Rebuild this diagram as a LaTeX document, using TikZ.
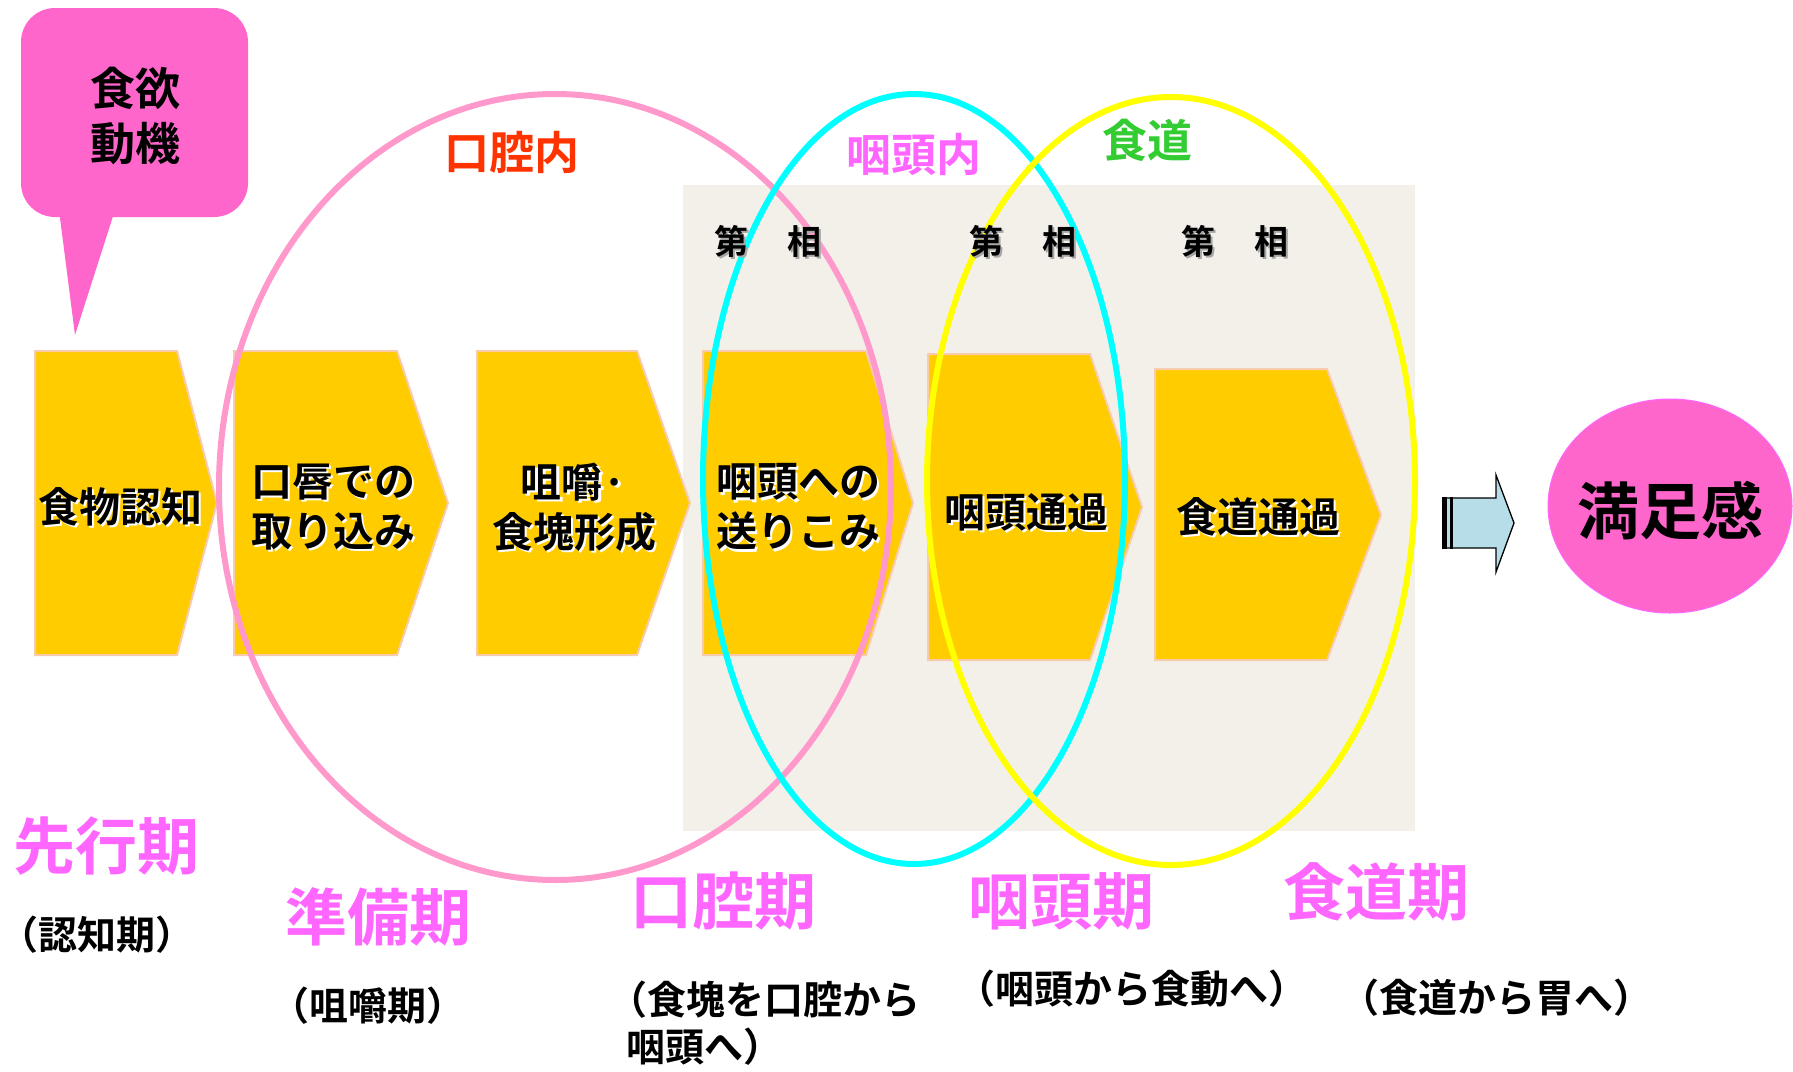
\documentclass[tikz,border=0pt]{standalone}
\usepackage{fontspec}
\setmainfont{Noto Sans CJK JP}[BoldFont={Noto Sans CJK JP Bold}]
\usetikzlibrary{shapes.geometric}
\definecolor{chevfill}{HTML}{FFCC00}
\definecolor{chevline}{HTML}{F8CBAD}
\definecolor{hotpink}{HTML}{FF66CC}
\definecolor{magentalbl}{HTML}{FF66FF}
\definecolor{redlbl}{HTML}{FF3300}
\definecolor{greenlbl}{HTML}{33CC33}
\definecolor{pinkring}{HTML}{FF99CC}
\definecolor{cyanring}{HTML}{00FFFF}
\definecolor{yellowring}{HTML}{FFFF00}
\definecolor{bgbeige}{HTML}{F3F0EA}
\definecolor{arrowblue}{HTML}{B7DEE8}
\newcommand{\fs}[1]{\fontsize{#1}{1.22\dimexpr #1pt\relax}\selectfont\bfseries}
\newcommand{\shtext}[5]{% name, position, style, shadow colour, text
  \node[#3, text=#4, xshift=2.2pt, yshift=-2.2pt] at #2 {#5};
  \node[#3] (#1) at #2 {#5};}
\begin{document}
\begin{tikzpicture}[x=1pt,y=-1pt,
  chev/.style={fill=chevfill, draw=chevline, line width=2pt},
  ring/.style={line width=6pt},
  chevtxt/.style={inner sep=0pt, align=center, font=\fs{41}, text=black},
  phasetxt/.style={inner sep=0pt, font=\fs{62}, text=magentalbl},
  subtxt/.style={inner sep=0pt, font=\fs{39}, text=black},
  regtxt/.style={inner sep=0pt, font=\fs{45}},
  stagetxt/.style={inner sep=0pt, font=\fs{34}, text=black}]
\useasboundingbox (0,0) rectangle (1793,1071);
\fill[white] (0,0) rectangle (1793,1071);

% background panel
\fill[bgbeige] (683,185) rectangle (1415,831);

% callout
\fill[hotpink, rounded corners=34pt] (21,8) rectangle (248,217);
\fill[hotpink] (59,210) -- (115,210) -- (75,335) -- cycle;
\node[inner sep=0pt, align=center, font=\fs{45}, text=black] (motive) at (135,116) {食欲\\動機};

% chevrons
\draw[chev] (35,351) -- (177,351) -- (217,503) -- (177,655) -- (35,655) -- cycle;
\draw[chev] (234,351) -- (397,351) -- (448,503) -- (397,655) -- (234,655) -- cycle;
\draw[chev] (477,351) -- (637,351) -- (690,503) -- (637,655) -- (477,655) -- cycle;
\draw[chev] (703,351) -- (866,351) -- (913,503) -- (866,655) -- (703,655) -- cycle;
\draw[chev] (928,354) -- (1090,354) -- (1142,507) -- (1090,660) -- (928,660) -- cycle;
\draw[chev] (1155,369) -- (1327,369) -- (1381,515) -- (1327,660) -- (1155,660) -- cycle;

% rings
\draw[ring, pinkring] (555,487) ellipse [x radius=336, y radius=393];
\draw[ring, cyanring] (914,479) ellipse [x radius=211, y radius=385];
\draw[ring, yellowring] (1171,481) ellipse [x radius=244, y radius=384];

% chevron texts
\shtext{c1}{(120,507)}{chevtxt}{white}{食物認知}
\shtext{c2}{(333,507)}{chevtxt}{white}{口唇での\\取り込み}
\shtext{c3}{(574,507)}{chevtxt}{white}{咀嚼·\\食塊形成}
\shtext{c4}{(798,507)}{chevtxt}{white}{咽頭への\\送りこみ}
\shtext{c5}{(1026,512)}{chevtxt}{white}{咽頭通過}
\shtext{c6}{(1258,517)}{chevtxt}{white}{食道通過}

% stage labels
\shtext{s1}{(768,241)}{stagetxt}{gray!70}{第\hspace{1.15em}相}
\shtext{s2}{(1023,241)}{stagetxt}{gray!70}{第\hspace{1.15em}相}
\shtext{s3}{(1235,241)}{stagetxt}{gray!70}{第\hspace{1.15em}相}

% region labels
\node[regtxt, text=redlbl] (oral) at (512,152) {口腔内};
\node[regtxt, text=magentalbl] (phar) at (914,154) {咽頭内};
\node[regtxt, text=greenlbl] (eso) at (1147,140) {食道};

% arrow
\filldraw[fill=arrowblue, draw=black, line width=1.3pt] (1446,498) -- (1496,498) -- (1496,475) -- (1514,523) -- (1496,572) -- (1496,548) -- (1446,548) -- cycle;
\fill[black] (1442,497) rectangle (1447,549);
\fill[black] (1450,497) rectangle (1452.5,549);
\coordinate (arrowtip) at (1514,523);

% satisfaction
\node[ellipse, fill=hotpink, draw=magentalbl, line width=1pt, minimum width=244pt, minimum height=214pt, inner sep=0pt] (sat) at (1670,506) {};
\node[inner sep=0pt, font=\fs{62}, text=black] (sattxt) at (1670,511) {満足感};

% phase names
\node[phasetxt] (p1) at (106,846) {先行期};
\node[phasetxt] (p2) at (378,917) {準備期};
\node[phasetxt] (p3) at (723,901) {口腔期};
\node[phasetxt] (p4) at (1061,901) {咽頭期};
\node[phasetxt] (p5) at (1376,892) {食道期};

\node[subtxt] (q1) at (97,935) {（認知期）};
\node[subtxt] (q2) at (368,1006) {（咀嚼期）};
\node[subtxt, anchor=west, align=left] (q3) at (626,1023) {\hspace*{-0.45em}（食塊を口腔から\\咽頭へ）};
\node[subtxt] (q4) at (1132,989) {（咽頭から食動へ）};
\node[subtxt] (q5) at (1496,998) {（食道から胃へ）};
\end{tikzpicture}
\end{document}
